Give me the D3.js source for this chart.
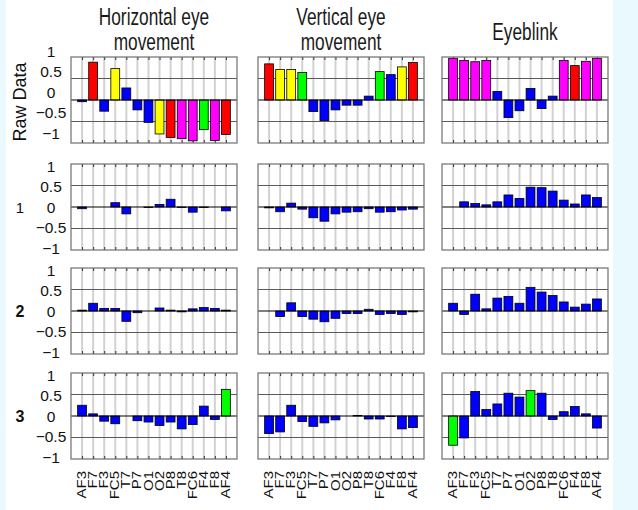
<!DOCTYPE html>
<html>
<head>
<meta charset="utf-8">
<script src="https://cdn.jsdelivr.net/npm/d3@7"></script>
<style>
  html, body { margin: 0; padding: 0; background: #ffffff; }
  svg { display: block; }
  text { font-family: "Liberation Sans", Arial, sans-serif; fill: #111; }
</style>
</head>
<body>
<script>
// EEG channels along the x axis of every panel
const channels = ["AF3","F7","F3","FC5","T7","P7","O1","O2","P8","T8","FC6","F4","F8","AF4"];
const columnTitles = [["Horizontal eye", "movement"], ["Vertical eye", "movement"], ["Eyeblink"]];
const rowLabels = ["Raw Data", "1", "2", "3"];
const yTicks = [1, 0.5, 0, -0.5, -1];
const yTickLabels = ["1", "0.5", "0", "\u22120.5", "\u22121"];

// Raw data per artifact type
const rawHorizontal = [-0.04, 0.88, -0.26, 0.73, 0.28, -0.23, -0.52, -0.79, -0.87, -0.9, -0.95, -0.69, -0.94, -0.8];
const rawVertical   = [0.84, 0.71, 0.71, 0.64, -0.27, -0.48, -0.23, -0.12, -0.12, 0.09, 0.66, 0.59, 0.77, 0.87];
const rawBlink      = [0.97, 0.92, 0.89, 0.92, 0.2, -0.41, -0.25, 0.27, -0.2, 0.09, 0.92, 0.8, 0.9, 0.97];

// Component 1
const comp1Horizontal = [-0.04, 0, 0, 0.1, -0.16, 0, -0.01, 0.06, 0.18, -0.01, -0.12, -0.01, 0, -0.09];
const comp1Vertical   = [-0.02, -0.11, 0.09, -0.05, -0.25, -0.33, -0.16, -0.12, -0.11, -0.04, -0.12, -0.11, -0.07, -0.05];
const comp1Blink      = [0, 0.12, 0.08, 0.05, 0.12, 0.28, 0.2, 0.46, 0.45, 0.37, 0.16, 0.07, 0.28, 0.22];

// Component 2
const comp2Horizontal = [0.02, 0.18, 0.06, 0.06, -0.24, -0.04, 0, 0.07, 0.02, -0.02, 0.05, 0.08, 0.06, 0.02];
const comp2Vertical   = [0, -0.13, 0.19, -0.13, -0.19, -0.25, -0.17, -0.06, -0.06, 0.04, -0.08, -0.06, -0.08, -0.02];
const comp2Blink      = [0.18, -0.08, 0.39, 0.05, 0.3, 0.34, 0.18, 0.55, 0.44, 0.36, 0.21, 0.09, 0.16, 0.28];

// Component 3
const comp3Horizontal = [0.25, 0.05, -0.12, -0.18, 0, -0.11, -0.14, -0.22, -0.14, -0.3, -0.2, 0.23, -0.08, 0.62];
const comp3Vertical   = [-0.41, -0.37, 0.25, -0.13, -0.24, -0.16, -0.09, 0, 0.01, -0.07, -0.07, -0.01, -0.3, -0.27];
const comp3Blink      = [-0.68, -0.51, 0.57, 0.15, 0.28, 0.53, 0.44, 0.59, 0.53, -0.08, 0.1, 0.22, 0.05, -0.28];

// Bar colour codes (b blue, r red, y yellow, m magenta, g green)
const rawHorizontalColors = ["b","r","b","y","b","b","b","y","r","m","m","g","m","r"];
const rawVerticalColors   = ["r","y","y","g","b","b","b","b","b","b","g","b","y","r"];
const rawBlinkColors      = ["m","m","m","m","b","b","b","b","b","b","m","r","m","m"];
const comp3HorizontalColors = ["b","b","b","b","b","b","b","b","b","b","b","b","b","g"];
const comp3BlinkColors      = ["g","b","b","b","b","b","b","g","b","b","b","b","b","b"];
const allBlue = channels.map(() => "b");

const palette = { b: "#0000ff", r: "#ff0000", y: "#ffff00", m: "#ff00ff", g: "#00ff00" };

const panels = [
  [[rawHorizontal, rawHorizontalColors], [rawVertical, rawVerticalColors], [rawBlink, rawBlinkColors]],
  [[comp1Horizontal, allBlue], [comp1Vertical, allBlue], [comp1Blink, allBlue]],
  [[comp2Horizontal, allBlue], [comp2Vertical, allBlue], [comp2Blink, allBlue]],
  [[comp3Horizontal, comp3HorizontalColors], [comp3Vertical, allBlue], [comp3Blink, comp3BlinkColors]]
];

const W = 638, H = 510;
const colLeft = [71, 258, 442];
const panelW = 166;
const rowTop = [57, 164, 268, 373];
const panelH = 86;
// vertical offset of the tick labels relative to their grid value
const labelShift = [-8, 0, 0, 0];

const svg = d3.select("body").append("svg").attr("width", W).attr("height", H);

// pale side margins
svg.append("rect").attr("x", 0).attr("y", 0).attr("width", 6).attr("height", H).attr("fill", "#eaf9fd");
svg.append("rect").attr("x", 613).attr("y", 0).attr("width", W - 613).attr("height", H).attr("fill", "#eaf9fd");

const x = d3.scaleLinear().domain([0, 15]);
const bandW = 0.8;

panels.forEach((row, ri) => {
  row.forEach(([values, colors], ci) => {
    const left = colLeft[ci], top = rowTop[ri];
    const xs = x.copy().range([left, left + panelW]);
    const y = d3.scaleLinear().domain([-1, 1]).range([top + panelH, top]);
    const g = svg.append("g");

    g.append("rect").attr("x", left).attr("y", top).attr("width", panelW).attr("height", panelH)
      .attr("fill", "#ffffff");

    // vertical grid lines at each channel
    g.selectAll("line.vg").data(channels).join("line")
      .attr("x1", (d, i) => xs(i + 1)).attr("x2", (d, i) => xs(i + 1))
      .attr("y1", top).attr("y2", top + panelH)
      .attr("stroke", "#d2d2d2").attr("stroke-width", 2);

    // horizontal grid lines
    g.selectAll("line.hg").data([0.5, -0.5]).join("line")
      .attr("x1", left).attr("x2", left + panelW)
      .attr("y1", d => y(d)).attr("y2", d => y(d))
      .attr("stroke", "#5a5a5a").attr("stroke-width", 1);

    // x ticks (inside, top and bottom)
    const xAxisB = d3.axisBottom(xs).tickValues(d3.range(1, 15)).tickSize(-3).tickFormat("");
    const xAxisT = d3.axisTop(xs).tickValues(d3.range(1, 15)).tickSize(-3).tickFormat("");
    g.append("g").attr("transform", `translate(0,${top + panelH})`).call(xAxisB)
      .call(a => a.select(".domain").remove())
      .call(a => a.selectAll("line").attr("stroke", "#333"));
    g.append("g").attr("transform", `translate(0,${top})`).call(xAxisT)
      .call(a => a.select(".domain").remove())
      .call(a => a.selectAll("line").attr("stroke", "#333"));

    // bars
    g.selectAll("rect.bar").data(values).join("rect")
      .attr("class", "bar")
      .attr("x", (d, i) => xs(i + 1 - bandW / 2))
      .attr("width", (d, i) => xs(i + 1 + bandW / 2) - xs(i + 1 - bandW / 2))
      .attr("y", d => y(Math.max(0, d)))
      .attr("height", d => Math.abs(y(d) - y(0)))
      .attr("fill", (d, i) => palette[colors[i]])
      .attr("stroke", "#000").attr("stroke-width", 0.8);

    // baseline
    g.append("line").attr("x1", left).attr("x2", left + panelW)
      .attr("y1", y(0)).attr("y2", y(0)).attr("stroke", "#000").attr("stroke-width", 1);

    // frame
    g.append("rect").attr("x", left).attr("y", top).attr("width", panelW).attr("height", panelH)
      .attr("fill", "none").attr("stroke", "#6e6e6e").attr("stroke-width", 1.2);

    // y tick labels on the first column
    if (ci === 0) {
      g.selectAll("text.yt").data(yTicks).join("text")
        .attr("x", 51)
        .attr("y", (d, i) => top + panelH / 2 - d * 41 + labelShift[ri])
        .attr("text-anchor", "middle").attr("dominant-baseline", "central")
        .style("font-size", "15.5px")
        .text((d, i) => yTickLabels[i]);
    }

    // channel names under the bottom row
    if (ri === 3) {
      g.selectAll("text.xl").data(channels).join("text")
        .attr("transform", (d, i) => `translate(${xs(i + 1)},471) rotate(-90) scale(1,0.82)`)
        .attr("text-anchor", "end").attr("dominant-baseline", "central")
        .style("font-size", "15px")
        .text(d => d);
    }
  });

  // row labels
  if (ri === 0) {
    svg.append("text")
      .attr("transform", `translate(20,102) rotate(-90)`)
      .attr("text-anchor", "middle").attr("dominant-baseline", "central")
      .style("font-size", "18px")
      .text(rowLabels[0]);
  } else {
    svg.append("text")
      .attr("x", 20).attr("y", rowTop[ri] + panelH / 2)
      .attr("text-anchor", "middle").attr("dominant-baseline", "central")
      .style("font-size", ri === 1 ? "15px" : "16px")
      .style("font-weight", ri === 1 ? "normal" : "bold")
      .text(rowLabels[ri]);
  }
});

// column titles
columnTitles.forEach((lines, ci) => {
  const cx = colLeft[ci] + panelW / 2;
  const baselines = lines.length === 2 ? [25, 50] : [40];
  lines.forEach((t, li) => {
    svg.append("text")
      .attr("transform", `translate(${cx},${baselines[li]}) scale(0.72,1)`)
      .attr("text-anchor", "middle")
      .style("font-size", "24px")
      .style("fill", "#1a1a1a")
      .text(t);
  });
});
</script>
</body>
</html>
